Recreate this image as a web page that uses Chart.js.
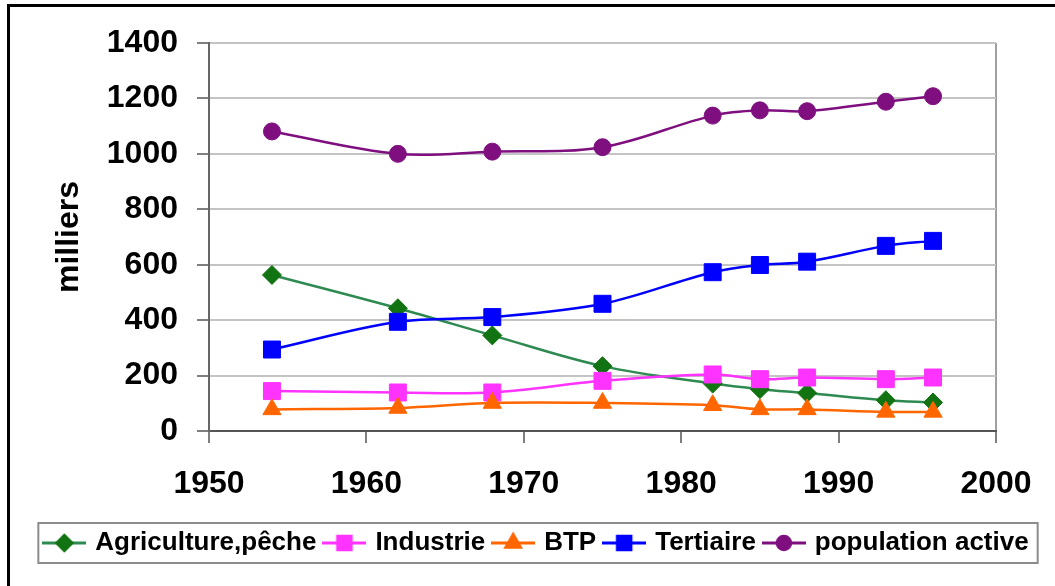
<!DOCTYPE html>
<html>
<head>
<meta charset="utf-8">
<script src="https://cdn.jsdelivr.net/npm/chart.js@4/dist/chart.umd.min.js"></script>
<style>
  html, body { margin: 0; padding: 0; background: #fff; }
  #wrap { position: relative; width: 1055px; height: 586px; overflow: hidden; }
  #frame { position: absolute; left: 7px; top: 4px; width: 1046px; height: 600px;
           border-top: 3px solid #000; border-left: 3px solid #000; }
  #chart { position: absolute; left: 0; top: 0; }
</style>
</head>
<body>
<div id="wrap">
  <div id="frame"></div>
  <canvas id="chart" width="1055" height="586"></canvas>
</div>
<script>
// values (thousands)
const years = [1954, 1962, 1968, 1975, 1982, 1985, 1988, 1993, 1996];
const agriculture = [563, 443, 345, 234, 171, 151, 137, 111, 103];
const industrie = [144, 139, 139, 181, 204, 187, 193, 187, 193];
const btp = [78, 83, 101, 101, 93, 78, 78, 69, 69];
const tertiaire = [294, 394, 411, 459, 573, 599, 611, 668, 686];
const populationActive = [1081, 1000, 1008, 1024, 1138, 1157, 1154, 1188, 1208];

const seriesNames = ['Agriculture,pêche', 'Industrie', 'BTP', 'Tertiaire', 'population active'];
const yTicks = [0, 200, 400, 600, 800, 1000, 1200, 1400];
const xTicks = [1950, 1960, 1970, 1980, 1990, 2000];

const FONT = "'Liberation Sans', Arial, sans-serif";

function points(values) {
    return years.map((yr, i) => ({ x: yr, y: values[i] }));
}

// small canvas with line + marker, used as legend symbol
function legendSymbol(lineColor, markerColor, style, radius) {
    const c = document.createElement('canvas');
    c.width = 44;
    c.height = 24;
    const g = c.getContext('2d');
    g.strokeStyle = lineColor;
    g.lineWidth = 3;
    g.beginPath();
    g.moveTo(0, 12);
    g.lineTo(44, 12);
    g.stroke();
    g.fillStyle = markerColor;
    g.strokeStyle = markerColor;
    Chart.helpers.drawPoint(g, { pointStyle: style, radius: radius, rotation: 0, borderWidth: 1 }, 22, 12);
    return c;
}

const styles = [
    { line: '#2e8a50', marker: '#127312', shape: 'rectRot', r: 9.5 },
    { line: '#ff33ff', marker: '#ff33ff', shape: 'rect', r: 12 },
    { line: '#ff6600', marker: '#ff6600', shape: 'triangle', r: 10.5 },
    { line: '#0000ff', marker: '#0000ff', shape: 'rect', r: 12 },
    { line: '#7f0f7f', marker: '#7f0f7f', shape: 'circle', r: 8.5 }
];
const allValues = [agriculture, industrie, btp, tertiaire, populationActive];
const drawOrder = [5, 4, 3, 2, 1];

const datasets = allValues.map((vals, i) => ({
    label: seriesNames[i],
    data: points(vals),
    borderColor: styles[i].line,
    backgroundColor: styles[i].marker,
    pointBorderColor: styles[i].marker,
    pointBackgroundColor: styles[i].marker,
    pointStyle: styles[i].shape,
    pointRadius: styles[i].r,
    pointBorderWidth: 1,
    borderWidth: 2.5,
    tension: 0.35,
    order: drawOrder[i]
}));

const symbols = styles.map(s => legendSymbol(s.line, s.marker, s.shape, s.r * 0.8));

// grey box around the legend items
const legendFrame = {
    id: 'legendFrame',
    afterDraw(chart) {
        const boxes = chart.legend.legendHitBoxes;
        if (!boxes || !boxes.length) return;
        const left = Math.min(...boxes.map(b => b.left)) - 8;
        const right = Math.max(...boxes.map(b => b.left + b.width)) + 9;
        const top = boxes[0].top - 7;
        const bottom = boxes[0].top + boxes[0].height + 7;
        const ctx = chart.ctx;
        ctx.save();
        ctx.strokeStyle = '#8c8c8c';
        ctx.lineWidth = 2;
        ctx.strokeRect(left, top, right - left, bottom - top);
        ctx.restore();
    }
};

new Chart(document.getElementById('chart'), {
    type: 'line',
    data: { datasets: datasets },
    options: {
        responsive: false,
        animation: false,
        layout: { padding: { left: 20, right: 0, top: 43, bottom: 20 } },
        plugins: {
            tooltip: { enabled: false },
            legend: {
                position: 'bottom',
                labels: {
                    usePointStyle: true,
                    pointStyleWidth: 36,
                    padding: 10,
                    color: '#000',
                    font: { family: FONT, size: 26, weight: 'bold' },
                    sort: (a, b) => a.datasetIndex - b.datasetIndex,
                    generateLabels(chart) {
                        return chart.data.datasets.map((ds, i) => ({
                            text: ds.label,
                            datasetIndex: i,
                            pointStyle: symbols[i],
                            fillStyle: ds.backgroundColor,
                            strokeStyle: ds.borderColor,
                            lineWidth: 0,
                            fontColor: '#000',
                            hidden: false
                        }));
                    }
                }
            }
        },
        scales: {
            x: {
                type: 'linear',
                min: 1950,
                max: 2000,
                afterBuildTicks: s => { s.ticks = xTicks.map(v => ({ value: v })); },
                afterFit: s => { s.height = 89; },
                ticks: {
                    color: '#000',
                    padding: 22,
                    font: { family: FONT, size: 32, weight: 'bold' },
                    callback: v => String(v)
                },
                grid: {
                    drawOnChartArea: true,
                    color: c => (c.tick && c.tick.value === 2000) ? '#a0a0a0' : 'rgba(0,0,0,0)',
                    lineWidth: 2,
                    tickLength: 12,
                    tickColor: '#555',
                    tickWidth: 1.5
                },
                border: { color: '#555', width: 2 }
            },
            y: {
                min: 0,
                max: 1400,
                afterBuildTicks: s => { s.ticks = yTicks.map(v => ({ value: v })); },
                afterFit: s => { s.width = 189; },
                title: {
                    display: true,
                    text: 'milliers',
                    color: '#000',
                    font: { family: FONT, size: 32, weight: 'bold' },
                    padding: { top: 30, bottom: 0 }
                },
                ticks: {
                    color: '#000',
                    padding: 19,
                    font: { family: FONT, size: 32, weight: 'bold' },
                    callback: v => String(v)
                },
                grid: {
                    color: '#c4c4c4',
                    lineWidth: 2,
                    tickLength: 12,
                    tickColor: '#555',
                    tickWidth: 1.5
                },
                border: { color: '#666', width: 2 }
            },
            yRight: {
                type: 'linear',
                position: 'right',
                display: true,
                afterFit: s => { s.width = 59; },
                ticks: { display: false },
                grid: { display: false },
                border: { display: false }
            }
        }
    },
    plugins: [legendFrame]
});
</script>
</body>
</html>
